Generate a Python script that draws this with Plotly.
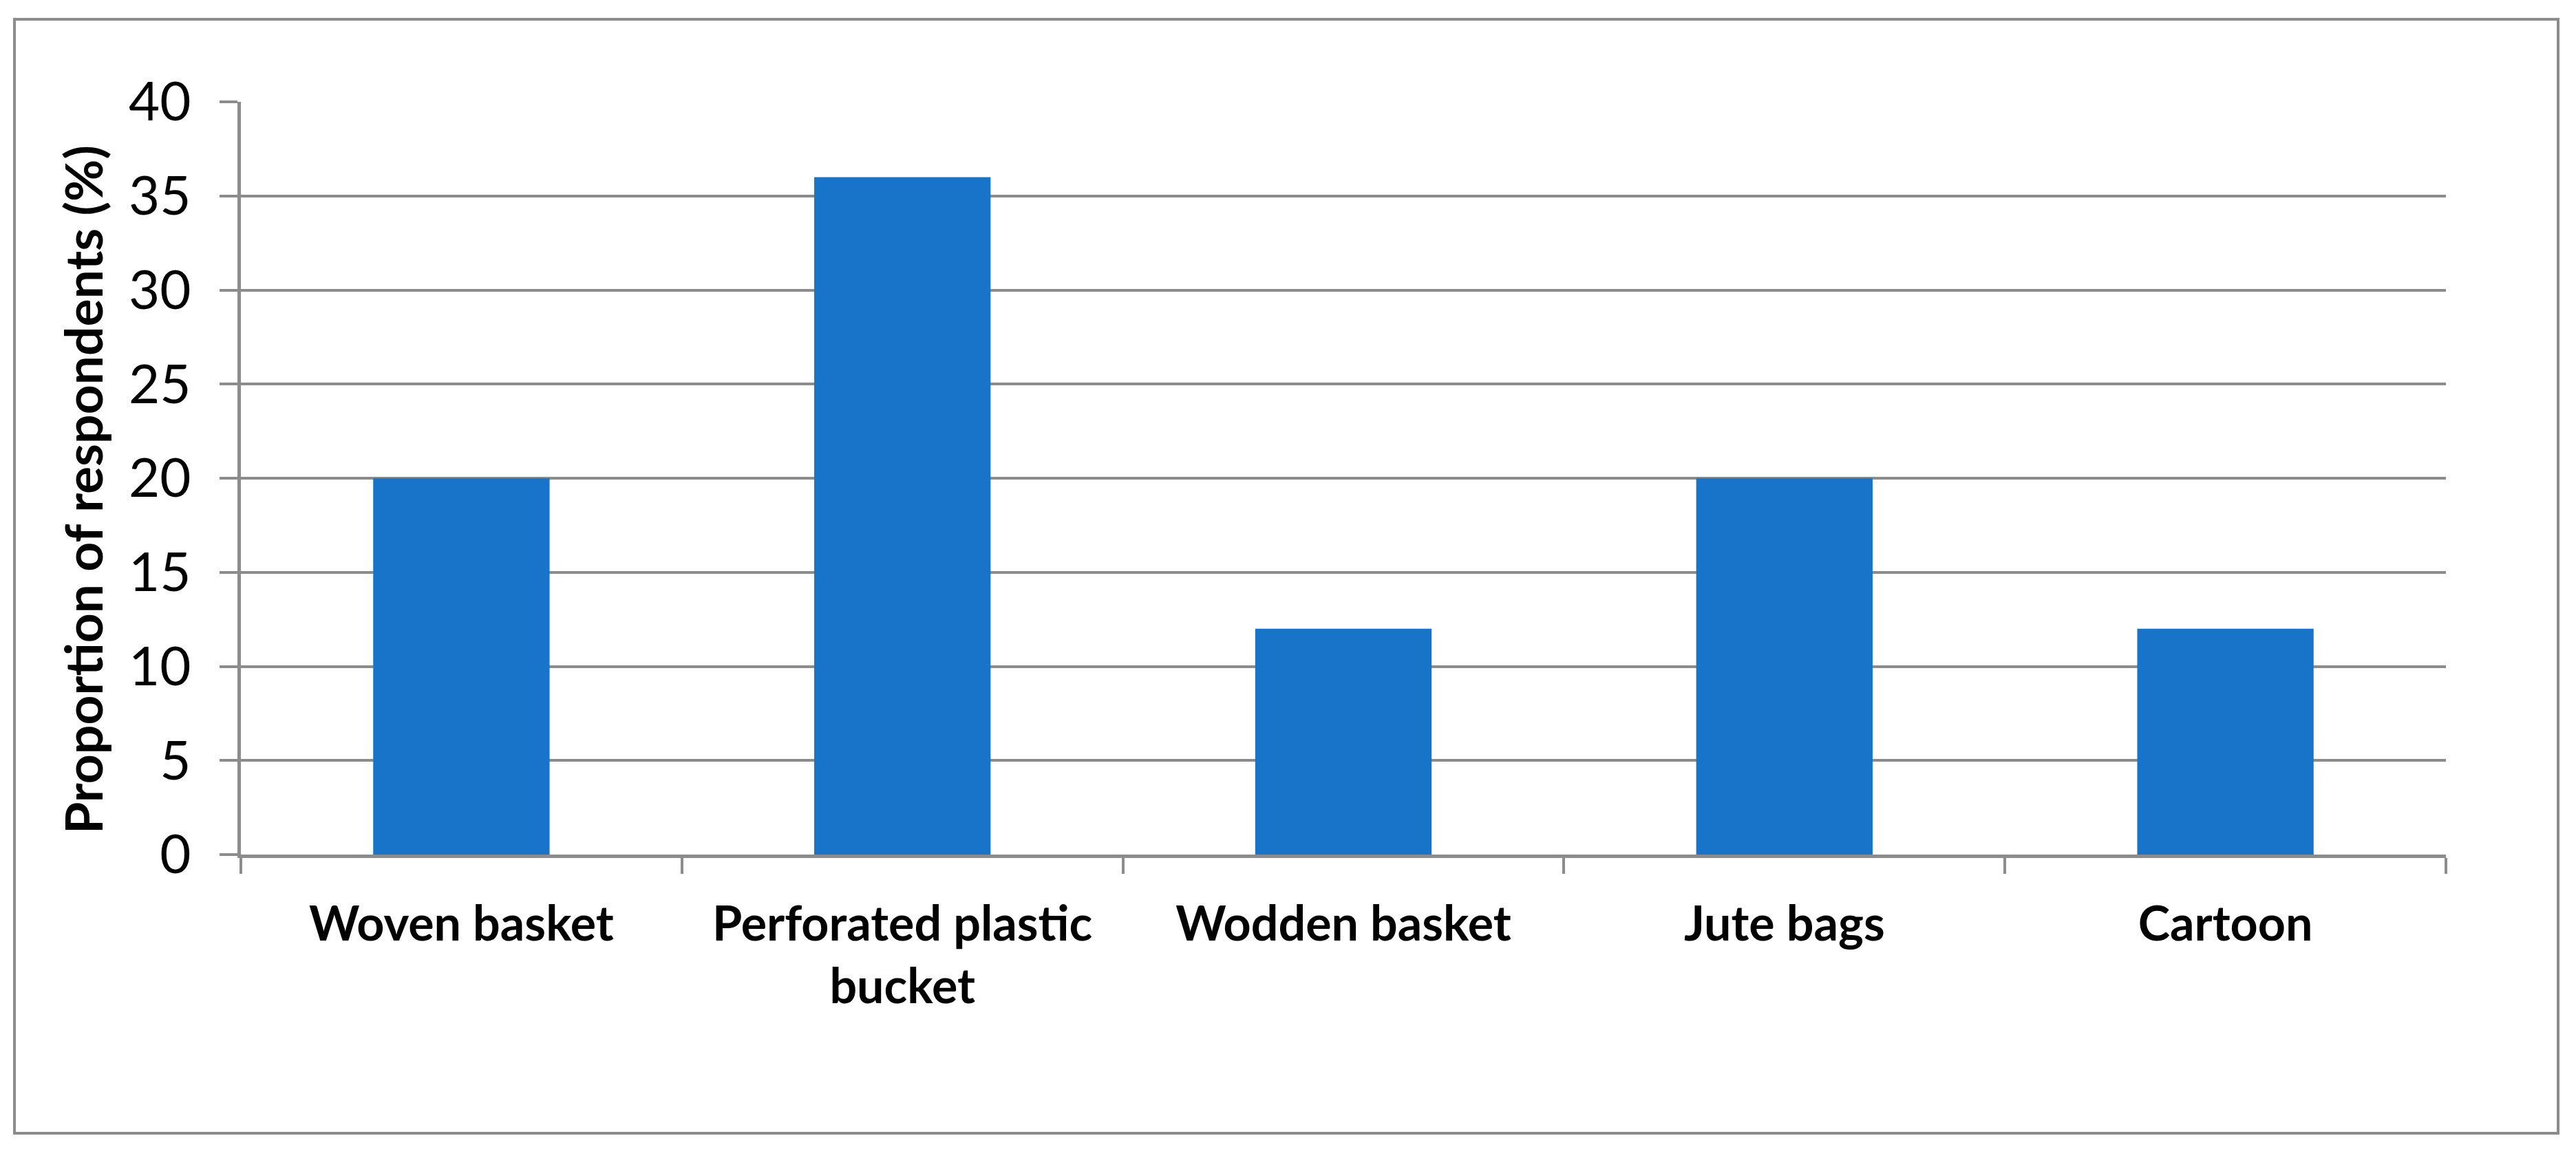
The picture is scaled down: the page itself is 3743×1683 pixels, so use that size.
import plotly.graph_objects as go

# packaging types and share of respondents (%)
categories = ["Woven basket", "Perforated plastic<br>bucket", "Wodden basket", "Jute bags", "Cartoon"]
proportions = [20, 36, 12, 20, 12]
y_ticks = [0, 5, 10, 15, 20, 25, 30, 35, 40]

GRAY = "#8c8c8c"
BLUE = "#1874c8"
FONT = "Lato"

# page has an 8px body margin, so the figure is a bit smaller than the window
OFF = 8
W, H = 3743 - 2 * OFF, 1683 - 2 * OFF
# plot area in screen pixels
left, right, top, bottom = 350, 3554, 148, 1242
pw, ph = right - left, bottom - top

fig = go.Figure()
fig.add_trace(go.Bar(x=categories, y=proportions, marker=dict(color=BLUE, line=dict(width=0)),
                     showlegend=False))

fig.update_layout(
    width=W, height=H,
    margin=dict(l=left - OFF, r=W - (right - OFF), t=top - OFF, b=H - (bottom - OFF), pad=0),
    paper_bgcolor="white", plot_bgcolor="white",
    bargap=0.6,
    font=dict(family=FONT, color="black"),
)

fig.update_xaxes(
    type="category",
    showline=True, linecolor=GRAY, linewidth=5,
    ticks="outside", tickson="boundaries", ticklen=23, tickcolor=GRAY, tickwidth=4,
    tickfont=dict(family=FONT, size=70, color="black", weight="bold"),
    ticklabelstandoff=36,
    showgrid=False,
)
fig.update_yaxes(
    range=[0, 40], tickvals=y_ticks,
    showline=True, linecolor=GRAY, linewidth=5,
    showgrid=True, gridcolor=GRAY, gridwidth=4,
    zeroline=False,
    ticks="outside", ticklen=26, tickcolor=GRAY, tickwidth=4,
    tickfont=dict(family=FONT, size=78, color="black"),
    ticklabelstandoff=26,
)

# rotated y title
fig.add_annotation(
    text="<b>Proportion of respondents (%)</b>",
    xref="paper", yref="paper",
    x=(120 - left) / pw, y=(bottom - 712) / ph,
    xanchor="center", yanchor="middle",
    textangle=-90, showarrow=False,
    font=dict(family=FONT, size=75, color="black"),
)

# outer chart frame
fig.add_shape(
    type="rect", xref="paper", yref="paper",
    x0=(21 - left) / pw, x1=(3717 - left) / pw,
    y0=(bottom - 1647) / ph, y1=(bottom - 28) / ph,
    line=dict(color=GRAY, width=4), fillcolor="rgba(0,0,0,0)", layer="below",
)

fig.write_html("out.html")
